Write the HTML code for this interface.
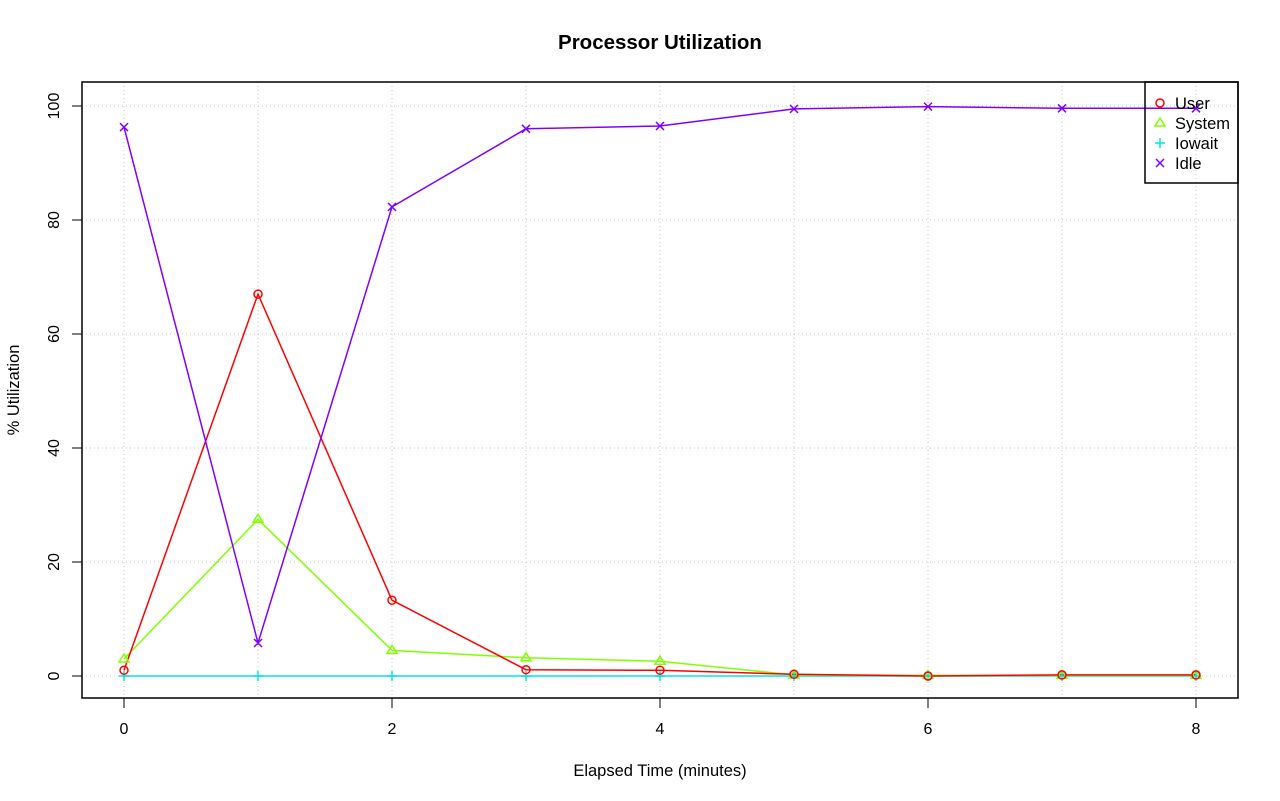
<!DOCTYPE html>
<html><head><style>body{margin:0;background:#fff}svg{display:block}text{font-family:"Liberation Sans",sans-serif;fill:#000}</style></head><body>
<svg width="1280" height="801" viewBox="0 0 1280 801" xmlns="http://www.w3.org/2000/svg">
<rect width="1280" height="801" fill="#fff"/>
<text x="660" y="49" text-anchor="middle" font-size="20.5" font-weight="bold">Processor Utilization</text>
<g stroke="#c8c8c8" stroke-width="1" stroke-dasharray="1,3">
<line x1="124" y1="82" x2="124" y2="698"/><line x1="258" y1="82" x2="258" y2="698"/><line x1="392" y1="82" x2="392" y2="698"/><line x1="526" y1="82" x2="526" y2="698"/><line x1="660" y1="82" x2="660" y2="698"/><line x1="794" y1="82" x2="794" y2="698"/><line x1="928" y1="82" x2="928" y2="698"/><line x1="1062" y1="82" x2="1062" y2="698"/><line x1="1196" y1="82" x2="1196" y2="698"/>
<line x1="82" y1="676" x2="1238" y2="676"/><line x1="82" y1="562" x2="1238" y2="562"/><line x1="82" y1="448" x2="1238" y2="448"/><line x1="82" y1="334" x2="1238" y2="334"/><line x1="82" y1="220" x2="1238" y2="220"/><line x1="82" y1="106" x2="1238" y2="106"/>
</g>
<g fill="none" stroke-width="1.5">
<polyline stroke="#00e5e5" points="124,676 1196,676"/>
<polyline stroke="#80ff00" points="124,658.9 258,519.3 392,650.4 526,657.8 660,661.2 794,674.9 928,675.4 1062,675.4 1196,675.4"/>
<polyline stroke="#ff0000" points="124,670.3 258,294.1 392,600.2 526,669.7 660,670.3 794,674.3 928,676 1062,674.9 1196,674.9"/>
<polyline stroke="#8000ff" points="124,127.1 258,643 392,206.9 526,128.8 660,126 794,108.9 928,106.6 1062,108.3 1196,108.3"/>
</g>
<g fill="none" stroke="#00e5e5" stroke-width="1.5">
<path d="M119,676h10M124,671v10M253,676h10M258,671v10M387,676h10M392,671v10M521,676h10M526,671v10M655,676h10M660,671v10M789,676h10M794,671v10M923,676h10M928,671v10M1057,676h10M1062,671v10M1191,676h10M1196,671v10"/>
</g>
<g fill="none" stroke="#80ff00" stroke-width="1.5">
<path d="M124,654l5,8h-10z M258,514.3l5,8h-10z M392,645.4l5,8h-10z M526,652.8l5,8h-10z M660,656.2l5,8h-10z M794,670l5,8h-10z M928,670.4l5,8h-10z M1062,670.4l5,8h-10z M1196,670.4l5,8h-10z"/>
</g>
<g fill="none" stroke="#ff0000" stroke-width="1.5">
<circle cx="124" cy="670.3" r="4"/><circle cx="258" cy="294.1" r="4"/><circle cx="392" cy="600.2" r="4"/><circle cx="526" cy="669.7" r="4"/><circle cx="660" cy="670.3" r="4"/><circle cx="794" cy="674.3" r="4"/><circle cx="928" cy="676" r="4"/><circle cx="1062" cy="674.9" r="4"/><circle cx="1196" cy="674.9" r="4"/>
</g>
<g fill="none" stroke="#8000ff" stroke-width="1.5">
<path d="M120,123.1l8,8m0,-8l-8,8 M254,639l8,8m0,-8l-8,8 M388,202.9l8,8m0,-8l-8,8 M522,124.8l8,8m0,-8l-8,8 M656,122l8,8m0,-8l-8,8 M790,104.9l8,8m0,-8l-8,8 M924,102.6l8,8m0,-8l-8,8 M1058,104.3l8,8m0,-8l-8,8 M1192,104.3l8,8m0,-8l-8,8"/>
</g>
<rect x="82" y="82" width="1156" height="616" fill="none" stroke="#000" stroke-width="1.5"/>
<g stroke="#000" stroke-width="1">
<line x1="124" y1="698" x2="1196" y2="698"/>
<line x1="124" y1="698" x2="124" y2="708"/><line x1="392" y1="698" x2="392" y2="708"/><line x1="660" y1="698" x2="660" y2="708"/><line x1="928" y1="698" x2="928" y2="708"/><line x1="1196" y1="698" x2="1196" y2="708"/>
<line x1="82" y1="106" x2="82" y2="676"/>
<line x1="72" y1="676" x2="82" y2="676"/><line x1="72" y1="562" x2="82" y2="562"/><line x1="72" y1="448" x2="82" y2="448"/><line x1="72" y1="334" x2="82" y2="334"/><line x1="72" y1="220" x2="82" y2="220"/><line x1="72" y1="106" x2="82" y2="106"/>
</g>
<g font-size="16" text-anchor="middle">
<text x="124" y="734">0</text><text x="392" y="734">2</text><text x="660" y="734">4</text><text x="928" y="734">6</text><text x="1196" y="734">8</text>
<text transform="translate(59,676) rotate(-90)">0</text><text transform="translate(59,562) rotate(-90)">20</text><text transform="translate(59,448) rotate(-90)">40</text><text transform="translate(59,334) rotate(-90)">60</text><text transform="translate(59,220) rotate(-90)">80</text><text transform="translate(59,106) rotate(-90)">100</text>
<text x="660" y="776" font-size="16.5">Elapsed Time (minutes)</text>
<text transform="translate(19,390) rotate(-90)" font-size="16.5">% Utilization</text>
</g>
<rect x="1145" y="82" width="93" height="101" fill="none" stroke="#000" stroke-width="1.5"/>
<circle cx="1160" cy="103" r="4" fill="none" stroke="#ff0000" stroke-width="1.5"/>
<path d="M1160,118l5,8h-10z" fill="none" stroke="#80ff00" stroke-width="1.5"/>
<path d="M1155,143h10M1160,138v10" stroke="#00e5e5" stroke-width="1.5"/>
<path d="M1156,159l8,8m0,-8l-8,8" stroke="#8000ff" stroke-width="1.5"/>
<g font-size="16.5"><text x="1175" y="109">User</text><text x="1175" y="129">System</text><text x="1175" y="149">Iowait</text><text x="1175" y="169">Idle</text></g>
</svg>
</body></html>
